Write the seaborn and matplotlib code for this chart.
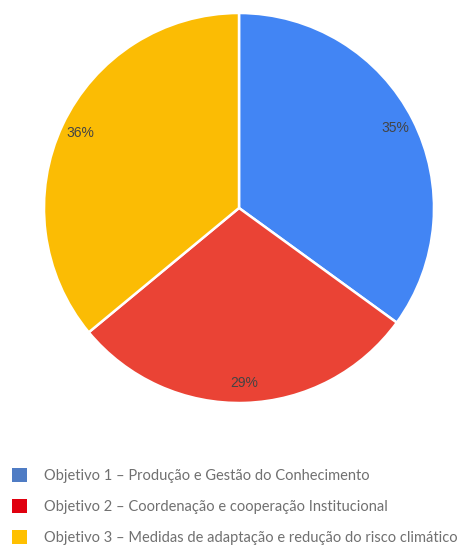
import matplotlib
matplotlib.use("Agg")
import matplotlib.pyplot as plt
from matplotlib.patches import Patch
import seaborn as sns

# Share of actions per objective (%)
labels = [
    "Objetivo 1 – Produção e Gestão do Conhecimento",
    "Objetivo 2 – Coordenação e cooperação Institucional",
    "Objetivo 3 – Medidas de adaptação e redução do risco climático",
]
values = [35, 29, 36]
slice_colors = ["#4285F4", "#EA4335", "#FBBC04"]
legend_colors = ["#4F7CC4", "#E0000F", "#FFC000"]

sns.set_theme(style="white")
plt.rcParams["font.family"] = ["Liberation Sans", "DejaVu Sans"]

W, H = 458, 546
fig = plt.figure(figsize=(W / 100, H / 100), dpi=100)
cx, cy, r = 239, 208, 195
ax = fig.add_axes([(cx - r) / W, 1 - (cy + r) / H, 2 * r / W, 2 * r / H])

wedges, texts, autotexts = ax.pie(
    values,
    colors=slice_colors,
    startangle=90,
    counterclock=False,
    radius=1,
    autopct=lambda p: f"{p:.0f}%",
    pctdistance=0.9,
    wedgeprops=dict(edgecolor="white", linewidth=1.8, clip_on=False),
    textprops=dict(color="#444444", fontsize=10),
)
ax.set_xlim(-1, 1)
ax.set_ylim(-1, 1)
ax.set_aspect("equal")
ax.axis("off")

handles = [Patch(facecolor=c, edgecolor="none") for c in legend_colors]
fig.legend(
    handles, labels,
    loc="upper left",
    bbox_to_anchor=(-1 / W, 1 - 455 / H),
    frameon=False,
    handlelength=1.05,
    handleheight=1.05,
    handletextpad=1.15,
    labelspacing=1.12,
    prop=dict(family="Lato", size=10.5),
    labelcolor="#707070",
)

fig.savefig("out.png", dpi=100, facecolor="white")
